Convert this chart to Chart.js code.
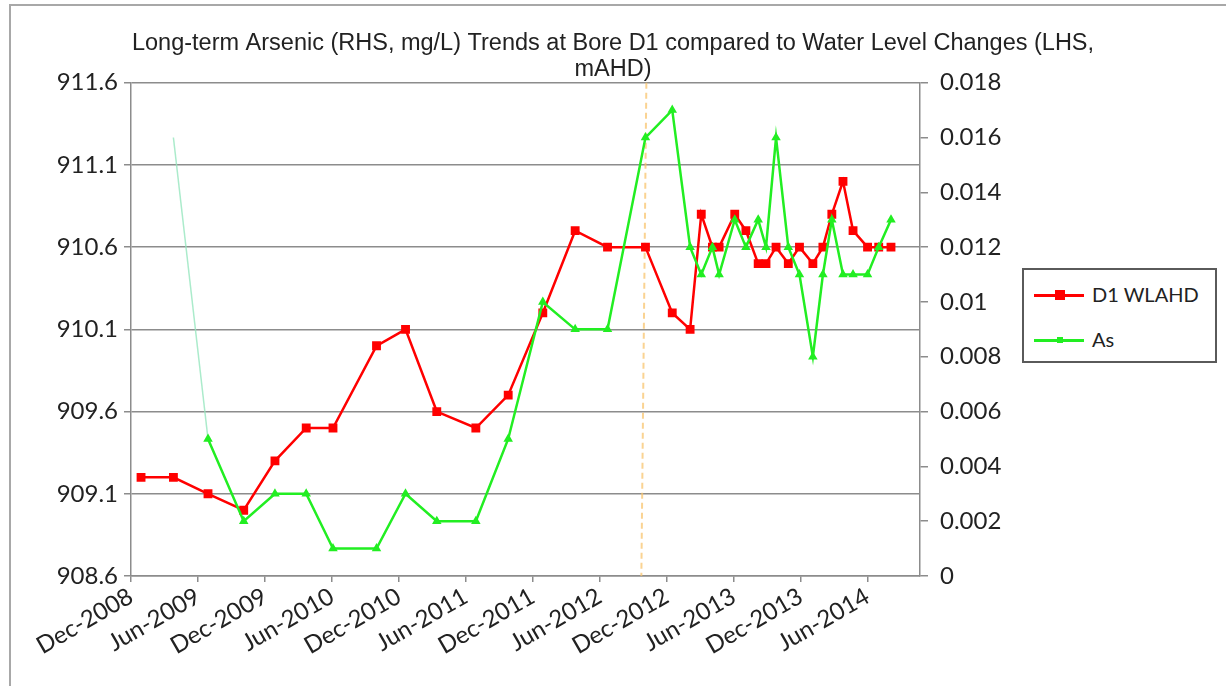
<!DOCTYPE html>
<html>
<head>
<meta charset="utf-8">
<script src="https://cdn.jsdelivr.net/npm/chart.js@4.4.0/dist/chart.umd.min.js"></script>
<style>
  body { margin: 0; background: #fff; }
  #wrap { position: relative; width: 1226px; height: 686px; overflow: hidden; }
  #frame { position: absolute; left: 9px; top: 4px; right: -4px; bottom: -4px;
           border-top: 2px solid #a8a8a8; border-left: 2px solid #a8a8a8; pointer-events: none; }
  #legend { position: absolute; left: 1022px; top: 268px; width: 191px; height: 91px;
            border: 2px solid #5a5a5a; background: #fff; font-family: Lato, sans-serif; font-size: 20px; color: #222; }
  .item { position: absolute; left: 10px; height: 20px; }
  .line { position: absolute; left: 0; top: 9px; width: 50px; height: 3px; }
  .mark { position: absolute; }
  .lab { position: absolute; left: 58px; top: -3px; white-space: nowrap; }
</style>
</head>
<body>
<div id="wrap">
  <canvas id="chart" width="1226" height="686"></canvas>
  <div id="frame"></div>
  <div id="legend">
    <div class="item" style="top:15px;">
      <div class="line" style="background:#ff0000;"></div>
      <div class="mark" style="left:21px;top:5px;width:10px;height:10px;background:#ff0000;"></div>
      <div class="lab">D1 WLAHD</div>
    </div>
    <div class="item" style="top:60px;">
      <div class="line" style="background:#22ee22;"></div>
      <div class="mark" style="left:23px;top:7px;width:6px;height:6px;background:#22ee22;"></div>
      <div class="lab">As</div>
    </div>
  </div>
</div>
<script>
// Sample dates, as months after Dec-2008
const sampleMonths = [0.9, 3.8, 6.9, 10.1, 12.9, 15.7, 18.1, 22.0, 24.6, 27.4, 30.9, 33.8,
                      36.9, 39.8, 42.7, 46.1, 48.5, 50.1, 51.1, 52.1, 52.7, 54.1, 55.1, 56.2,
                      56.9, 57.8, 58.9, 59.9, 61.1, 62.0, 62.8, 63.8, 64.7, 66.0, 67.0, 68.1];

// Water level (LHS, mAHD)
const waterLevel = [909.2, 909.2, 909.1, 909.0, 909.3, 909.5, 909.5, 910.0, 910.1, 909.6, 909.5, 909.7,
                    910.2, 910.7, 910.6, 910.6, 910.2, 910.1, 910.8, 910.6, 910.6, 910.8, 910.7, 910.5,
                    910.5, 910.6, 910.5, 910.6, 910.5, 910.6, 910.8, 911.0, 910.7, 910.6, 910.6, 910.6];

// Arsenic (RHS, mg/L)
const arsenic = [null, 0.016, 0.005, 0.002, 0.003, 0.003, 0.001, 0.001, 0.003, 0.002, 0.002, 0.005,
                 0.010, 0.009, 0.009, 0.016, 0.017, 0.012, 0.011, 0.012, 0.011, 0.013, 0.012, 0.013,
                 0.012, 0.016, 0.012, 0.011, 0.008, 0.011, 0.013, 0.011, 0.011, 0.011, 0.012, 0.013];

// Axis ticks
const xTickMonths = [0, 6, 12, 18, 24, 30, 36, 42, 48, 54, 60, 66];
const leftTicks = [908.6, 909.1, 909.6, 910.1, 910.6, 911.1, 911.6];
const rightTicks = [0, 0.002, 0.004, 0.006, 0.008, 0.01, 0.012, 0.014, 0.016, 0.018];
const monthNames = ['Jan', 'Feb', 'Mar', 'Apr', 'May', 'Jun', 'Jul', 'Aug', 'Sep', 'Oct', 'Nov', 'Dec'];
const xMax = 70.7;
const markerMonth = 46.0; // orange dashed line

function monthLabel(m) {
    const total = 2008 * 12 + 11 + Math.round(m);
    return monthNames[total % 12] + '-' + Math.floor(total / 12);
}

const tickFont = { family: 'Lato, sans-serif', size: 24 };
const gridColor = '#8c8c8c';

const markerLine = {
    id: 'markerLine',
    beforeDatasetsDraw(chart) {
        const x = chart.scales.x.getPixelForValue(markerMonth);
        const { top, bottom } = chart.chartArea;
        const c = chart.ctx;
        c.save();
        c.strokeStyle = 'rgba(248, 196, 110, 0.75)';
        c.lineWidth = 2;
        c.setLineDash([6, 4]);
        c.beginPath();
        c.moveTo(x + 2, top);
        c.lineTo(x - 3, bottom);
        c.stroke();
        c.restore();
    }
};

const ctx = document.getElementById('chart').getContext('2d');
new Chart(ctx, {
    type: 'line',
    data: {
        datasets: [{
            label: 'As',
            data: sampleMonths.map((m, i) => ({ x: m, y: arsenic[i] })),
            yAxisID: 'y2',
            borderColor: '#22ee22',
            backgroundColor: '#22ee22',
            borderWidth: 2.5,
            pointStyle: 'triangle',
            pointRadius: arsenic.map((v, i) => (i === 1 ? 0 : 3)),
            segment: {
                borderColor: s => (s.p0DataIndex === 1 ? 'rgba(150, 230, 190, 0.8)' : undefined),
                borderWidth: s => (s.p0DataIndex === 1 ? 1.5 : undefined)
            },
            order: 0
        }, {
            label: 'D1 WLAHD',
            data: sampleMonths.map((m, i) => ({ x: m, y: waterLevel[i] })),
            yAxisID: 'y',
            borderColor: '#ff0000',
            backgroundColor: '#ff0000',
            borderWidth: 2.5,
            pointStyle: 'rect',
            pointRadius: 4.5,
            order: 1
        }]
    },
    options: {
        responsive: false,
        animation: false,
        layout: { padding: 0 },
        plugins: {
            legend: { display: false },
            tooltip: { enabled: false },
            title: {
                display: true,
                text: ['Long-term Arsenic (RHS, mg/L) Trends at Bore D1 compared to Water Level Changes (LHS,', 'mAHD)'],
                font: { family: 'Liberation Sans, Arial, sans-serif', size: 23.5, weight: 'normal', lineHeight: 1.1 },
                color: '#222',
                padding: { top: 31, bottom: 0 }
            }
        },
        scales: {
            x: {
                type: 'linear',
                min: 0,
                max: xMax,
                afterBuildTicks: s => { s.ticks = xTickMonths.map(v => ({ value: v })); },
                afterFit: s => { s.height = 110; },
                ticks: {
                    autoSkip: false,
                    minRotation: 30,
                    maxRotation: 30,
                    font: tickFont,
                    color: '#222',
                    padding: 0,
                    callback: v => monthLabel(v)
                },
                grid: { drawOnChartArea: false, color: gridColor, tickLength: 6, lineWidth: 1.5 },
                border: { color: gridColor, width: 1.5 }
            },
            y: {
                position: 'left',
                min: 908.6,
                max: 911.6,
                afterBuildTicks: s => { s.ticks = leftTicks.map(v => ({ value: v })); },
                afterFit: s => { s.width = 131; },
                ticks: { font: tickFont, color: '#222', padding: 6, callback: v => v.toFixed(1) },
                grid: { color: gridColor, lineWidth: 1.5, tickLength: 7 },
                border: { color: gridColor, width: 1.5 }
            },
            y2: {
                position: 'right',
                min: 0,
                max: 0.018,
                afterBuildTicks: s => { s.ticks = rightTicks.map(v => ({ value: v })); },
                afterFit: s => { s.width = 306; },
                ticks: { font: tickFont, color: '#222', padding: 12, callback: v => String(Number(v.toFixed(3))) },
                grid: { drawOnChartArea: false, color: gridColor, lineWidth: 1.5, tickLength: 8 },
                border: { color: gridColor, width: 1.5 }
            }
        }
    },
    plugins: [markerLine]
});
</script>
</body>
</html>
